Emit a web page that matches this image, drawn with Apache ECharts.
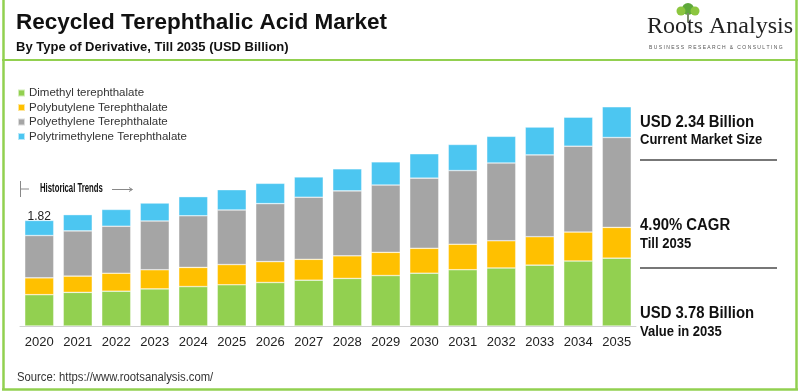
<!DOCTYPE html>
<html>
<head>
<meta charset="utf-8">
<script src="https://cdn.jsdelivr.net/npm/echarts@6/dist/echarts.min.js"></script>
<style>html,body{margin:0;padding:0;background:#fff}#c{width:800px;height:392px}</style>
</head>
<body>
<div id="c"></div>
<script>
var years = ['2020','2021','2022','2023','2024','2025','2026','2027','2028','2029','2030','2031','2032','2033','2034','2035'];
var seriesNames = ['Dimethyl terephthalate','Polybutylene Terephthalate','Polyethylene Terephthalate','Polytrimethylene Terephthalate'];
var dimethyl = [0.54,0.58,0.60,0.64,0.68,0.71,0.75,0.79,0.82,0.87,0.91,0.97,1.00,1.05,1.12,1.17];
var polybutylene = [0.29,0.28,0.31,0.33,0.33,0.35,0.36,0.36,0.39,0.40,0.43,0.44,0.47,0.49,0.50,0.53];
var polyethylene = [0.73,0.78,0.81,0.84,0.89,0.94,1.00,1.07,1.12,1.16,1.21,1.27,1.34,1.41,1.48,1.55];
var polytrimethylene = [0.26,0.28,0.29,0.31,0.33,0.35,0.35,0.35,0.38,0.40,0.42,0.45,0.46,0.48,0.50,0.53];
var colors = ['#92d050','#ffc000','#a5a5a5','#4cc6f1'];

var sans = '"Liberation Sans",Arial,sans-serif';
var green = '#92d050';

var values = [dimethyl, polybutylene, polyethylene, polytrimethylene];
var series = values.map(function(v, i){
  return {
    name: seriesNames[i],
    type: 'bar',
    stack: 'total',
    barWidth: 29,
    itemStyle: {color: colors[i], borderColor: 'rgba(255,255,255,0.6)', borderWidth: 0.6},
    data: v.map(function(x, j){
      var d = {value: x};
      if (i === 3 && j === 0) {
        d.label = {show: true, position: 'top', distance: -2, color: '#222', fontSize: 12, fontFamily: sans,
          formatter: function(){ return (dimethyl[0]+polybutylene[0]+polyethylene[0]+polytrimethylene[0]).toFixed(2); }};
      }
      return d;
    })
  };
});

function txt(x, y, text, font, sx, fill) {
  return {type: 'text', x: x, y: y, scaleX: sx || 1, style: {x: 0, y: 0, text: text, font: font, fill: fill || '#111', textVerticalAlign: 'middle'}};
}

var chart = echarts.init(document.getElementById('c'), null, {renderer: 'canvas'});
chart.setOption({
  animation: false,
  backgroundColor: '#fff',
  grid: {left: 20, right: 164, top: 94, bottom: 66},
  legend: {
    orient: 'vertical', left: 17, top: 87, padding: 0, itemWidth: 7, itemHeight: 7, itemGap: 2.5,
    icon: 'rect', data: seriesNames,
    textStyle: {fontSize: 11.5, color: '#333', fontFamily: sans, padding: [0, 0, 0, -1]}
  },
  xAxis: {
    type: 'category', data: years,
    axisLine: {lineStyle: {color: '#d0d0d0', width: 1}},
    axisTick: {show: false},
    axisLabel: {color: '#222', fontSize: 13, margin: 10, interval: 0, fontFamily: sans}
  },
  yAxis: {type: 'value', min: 0, max: 4, show: false, splitLine: {show: false}},
  series: series,
  graphic: [
    txt(16, 23, 'Recycled Terephthalic Acid Market', 'bold 22.5px ' + sans, 1, '#111'),
    txt(16, 47, 'By Type of Derivative, Till 2035 (USD Billion)', 'bold 13px ' + sans, 1, '#111'),
    // logo
    {type: 'circle', shape: {cx: 688, cy: 9, r: 6}, style: {fill: '#5ea83a'}},
    {type: 'circle', shape: {cx: 681, cy: 11, r: 4.5}, style: {fill: '#8cc63f'}},
    {type: 'circle', shape: {cx: 695, cy: 11, r: 4.5}, style: {fill: '#8cc63f'}},
    {type: 'rect', shape: {x: 687, y: 13, width: 2, height: 9}, style: {fill: '#7a8a6a'}},
    txt(647, 27, 'Roots Analysis', '24px "Liberation Serif","Times New Roman",serif', 1, '#222'),
    txt(649, 48, 'B U S I N E S S   R E S E A R C H   &   C O N S U L T I N G', '5px ' + sans, 1, '#555'),
    // frame
    {type: 'line', shape: {x1: 3.5, y1: 0, x2: 3.5, y2: 390}, style: {stroke: green, lineWidth: 2.5}},
    {type: 'line', shape: {x1: 796.5, y1: 0, x2: 796.5, y2: 390}, style: {stroke: green, lineWidth: 2.5}},
    {type: 'line', shape: {x1: 2, y1: 389.5, x2: 798, y2: 389.5}, style: {stroke: green, lineWidth: 2.5}},
    {type: 'line', shape: {x1: 2, y1: 60, x2: 798, y2: 60}, style: {stroke: green, lineWidth: 2}},
    // historical trends
    {type: 'line', shape: {x1: 20.5, y1: 181, x2: 20.5, y2: 197}, style: {stroke: '#888', lineWidth: 1}},
    {type: 'line', shape: {x1: 21, y1: 189, x2: 29, y2: 189}, style: {stroke: '#888', lineWidth: 1}},
    txt(40, 188.5, 'Historical Trends', 'bold 12.5px ' + sans, 0.62, '#111'),
    {type: 'line', shape: {x1: 112, y1: 189.5, x2: 132, y2: 189.5}, style: {stroke: '#888', lineWidth: 1}},
    {type: 'polyline', shape: {points: [[129, 187.5], [132.5, 189.5], [129, 191.5]]}, style: {stroke: '#888', lineWidth: 1, fill: null}},
    // right annotations
    txt(640, 123, 'USD 2.34 Billion', 'bold 16px ' + sans, 0.93),
    txt(640, 140, 'Current Market Size', 'bold 14px ' + sans, 0.93),
    {type: 'line', shape: {x1: 640, y1: 160, x2: 777, y2: 160}, style: {stroke: '#777', lineWidth: 2}},
    txt(640, 226, '4.90% CAGR', 'bold 16px ' + sans, 0.93),
    txt(640, 244, 'Till 2035', 'bold 14px ' + sans, 0.93),
    {type: 'line', shape: {x1: 640, y1: 268, x2: 777, y2: 268}, style: {stroke: '#777', lineWidth: 2}},
    txt(640, 314, 'USD 3.78 Billion', 'bold 16px ' + sans, 0.93),
    txt(640, 332, 'Value in 2035', 'bold 14px ' + sans, 0.93),
    // source
    txt(17, 378, 'Source: https://www.rootsanalysis.com/', '12px ' + sans, 0.94, '#333')
  ]
});
</script>
</body>
</html>
